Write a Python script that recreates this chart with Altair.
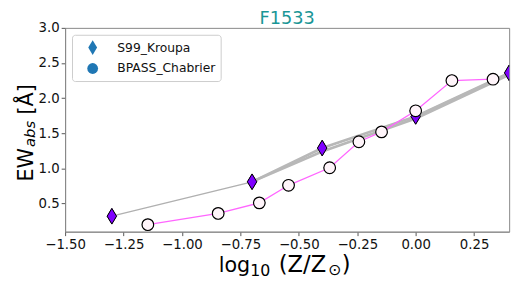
import altair as alt
import pandas as pd

# ---- data ----
s99_x = [-1.30, -0.70, -0.40, 0.00, 0.40]
s99_y = [0.32, 0.81, 1.29, 1.74, 2.36]
s99_band_x = [-0.70, -0.40, 0.00, 0.40]
s99_band_y = [0.81, 1.24, 1.71, 2.33]

bpass_x = [-1.146, -0.845, -0.669, -0.544, -0.368, -0.243, -0.146, 0.0, 0.155, 0.331]
bpass_y = [0.20, 0.36, 0.51, 0.76, 1.01, 1.38, 1.52, 1.82, 2.25, 2.27]

series_names = ["S99_Kroupa", "BPASS_Chabrier"]
x_ticks = [-1.5, -1.25, -1.0, -0.75, -0.5, -0.25, 0.0, 0.25]
y_ticks = [0.5, 1.0, 1.5, 2.0, 2.5, 3.0]

FONT = "DejaVu Sans"
THIN_DIAMOND = "M0,-1L0.6,0L0,1L-0.6,0Z"

df_s99 = pd.DataFrame({"x": s99_x, "y": s99_y, "series": series_names[0]})
df_band = pd.DataFrame({"x": s99_band_x, "y": s99_band_y})
df_bp = pd.DataFrame({"x": bpass_x, "y": bpass_y, "series": series_names[1]})
df_leg = pd.concat([df_s99, df_bp], ignore_index=True)
one = pd.DataFrame({"a": [0]})

X = alt.X("x:Q", scale=alt.Scale(domain=[-1.5, 0.4], nice=False, zero=False),
          axis=alt.Axis(values=x_ticks, format=".2f", title=None, labelFlush=False))
Y = alt.Y("y:Q", scale=alt.Scale(domain=[0.1, 3.0], nice=False, zero=False),
          axis=alt.Axis(values=y_ticks, format=".1f", title=None))

leg = alt.Legend(title=None, orient="none", legendX=7, legendY=7, padding=5,
                 strokeColor="#cccccc", fillColor="white", cornerRadius=3,
                 labelFont=FONT, labelFontSize=12.5, labelColor="#111",
                 symbolFillColor="#1f77b4", symbolStrokeColor="black",
                 symbolStrokeWidth=1, symbolOpacity=1, rowPadding=3,
                 symbolOffset=8, labelOffset=17)

# legend carrier layer (blue markers hidden under the real ones)
legend_layer = alt.Chart(df_leg).mark_point(
    filled=True, fill="#1f77b4", stroke="black", strokeWidth=1, opacity=1, clip=True
).encode(
    x=X, y=Y,
    shape=alt.Shape("series:N",
                    scale=alt.Scale(domain=series_names, range=[THIN_DIAMOND, "circle"]),
                    legend=leg),
    size=alt.Size("series:N",
                  scale=alt.Scale(domain=series_names, range=[225, 120]),
                  legend=leg),
)

gray_thin = alt.Chart(df_s99).mark_line(color="#b0b0b0", strokeWidth=1.3, clip=True).encode(x=X, y=Y, order="x:Q")
gray_band = alt.Chart(df_band).mark_line(color="#b8b8b8", strokeWidth=2.6, clip=True).encode(x=X, y=Y, order="x:Q")
gray_band2 = alt.Chart(df_s99.iloc[1:]).mark_line(color="#b8b8b8", strokeWidth=2.6, clip=True).encode(x=X, y=Y, order="x:Q")

diamonds = alt.Chart(df_s99).mark_point(
    filled=True, fill="#7f00ff", stroke="black", strokeWidth=1, size=256, opacity=1,
    shape=THIN_DIAMOND, clip=True
).encode(x=X, y=Y)

pink = alt.Chart(df_bp).mark_line(color="#ff66ff", strokeWidth=1.3, clip=True).encode(x=X, y=Y, order="x:Q")

circles = alt.Chart(df_bp).mark_point(
    filled=True, fill="#fff5fa", stroke="black", strokeWidth=1.2, size=140, opacity=1,
    shape="circle", clip=True
).encode(x=X, y=Y)

def txt(s, x, y, size, angle=0, style="normal"):
    return alt.Chart(one).mark_text(
        text=s, font=FONT, fontSize=size, fontStyle=style, angle=angle,
        align="left", baseline="alphabetic", color="black"
    ).encode(x=alt.value(x), y=alt.value(y))

# x title: log10 (Z/Z⊙)
xt = [
    txt("log", 156, 248, 21),
    txt("10", 188, 252, 16),
    txt("(Z/Z", 217, 248, 23),
    txt("⊙", 267, 251, 16),
    txt(")", 281, 248, 23),
]
# y title: EW_abs [Å]
yt = [
    txt("EW", -33, 156, 21, angle=270),
    txt("abs", -31, 121, 15, angle=270, style="italic"),
    txt("[Å]", -33, 88, 21, angle=270),
]

chart = alt.layer(
    legend_layer, gray_thin, gray_band, gray_band2, diamonds, pink, circles, *xt, *yt
).properties(
    width=451, height=207,
    autosize="none",
    padding={"left": 58, "top": 18, "right": 10, "bottom": 54},
    title=alt.Title("F1533", color="#1a9696", fontSize=18, font=FONT,
                    fontWeight="normal", offset=7, dy=14, anchor="middle", frame="group"),
).configure_view(
    stroke="#888888", strokeWidth=1
).configure_axis(
    labelFont=FONT, labelFontSize=13.5, labelColor="#111111",
    tickColor="#555555", tickSize=4, labelPadding=2,
    domainColor="#888888", grid=False
)

chart.save("out.html", embed_options={"renderer": "svg", "actions": False})
